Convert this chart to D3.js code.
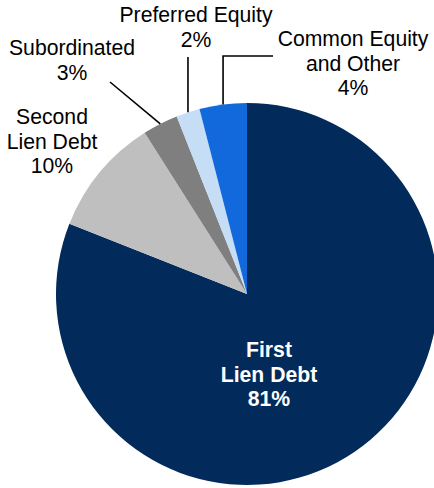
<!DOCTYPE html>
<html>
<head>
<meta charset="utf-8">
<script src="https://cdn.jsdelivr.net/npm/d3@7"></script>
<style>
  body { margin: 0; background: #fff; }
  svg text { font-family: "Liberation Sans", Arial, sans-serif; }
</style>
</head>
<body>
<svg id="chart" width="434" height="488"></svg>
<script>
// data
var categories = ["First Lien Debt", "Second Lien Debt", "Subordinated", "Preferred Equity", "Common Equity and Other"];
var shares = [81, 10, 3, 2, 4];
var colors = ["#022b5b", "#bfbfbf", "#7f7f7f", "#c6ddf6", "#1169db"];
var labelLines = [
    ["First", "Lien Debt", "81%"],
    ["Second", "Lien Debt", "10%"],
    ["Subordinated", "3%"],
    ["Preferred Equity", "2%"],
    ["Common Equity", "and Other", "4%"]
];

var svg = d3.select("#chart");
var cx = 247, cy = 294, radius = 191;

var pie = d3.pie().sort(null).value(function (d) { return d; });
var arc = d3.arc().innerRadius(0).outerRadius(radius);
var arcs = pie(shares);

var g = svg.append("g").attr("transform", "translate(" + cx + "," + cy + ")");

g.selectAll("path.slice")
    .data(arcs)
    .enter().append("path")
    .attr("class", "slice")
    .attr("d", arc)
    .attr("fill", function (d, i) { return colors[i]; });

// point on the rim at the middle of a slice
function rim(d) {
    var a = (d.startAngle + d.endAngle) / 2;
    return [radius * Math.sin(a), -radius * Math.cos(a)];
}

// label placement (anchor x, first baseline y, page coords), leader end
var labelPos = [
    { x: 269, y: 357, bold: true, fill: "#fff" },
    { x: 52, y: 124 },
    { x: 72, y: 55, leader: [[110, 82]] },
    { x: 196, y: 22, leader: [[188, 57]] },
    { x: 353, y: 46, leader: [[222, 56], [273, 56]] }
];
var lineStep = 24.5;

arcs.forEach(function (d, i) {
    var p = labelPos[i];
    if (p.leader) {
        var r = rim(d);
        var pts = [[cx + r[0], cy + r[1]]];
        if (i === 3) pts.push([cx + r[0], p.leader[0][1]]);
        else if (i === 4) { pts.push([cx + r[0], p.leader[0][1]]); pts.push(p.leader[1]); }
        else pts.push(p.leader[0]);
        svg.append("path")
            .attr("d", d3.line()(pts))
            .attr("fill", "none")
            .attr("stroke", "#000")
            .attr("stroke-width", 1.6);
    }
    var t = svg.append("text")
        .attr("text-anchor", "middle")
        .attr("font-size", 21.2)
        .attr("font-weight", p.bold ? "bold" : "normal")
        .attr("fill", p.fill || "#000");
    labelLines[i].forEach(function (s, k) {
        t.append("tspan").attr("x", p.x).attr("y", p.y + k * lineStep).text(s);
    });
});
</script>
</body>
</html>
